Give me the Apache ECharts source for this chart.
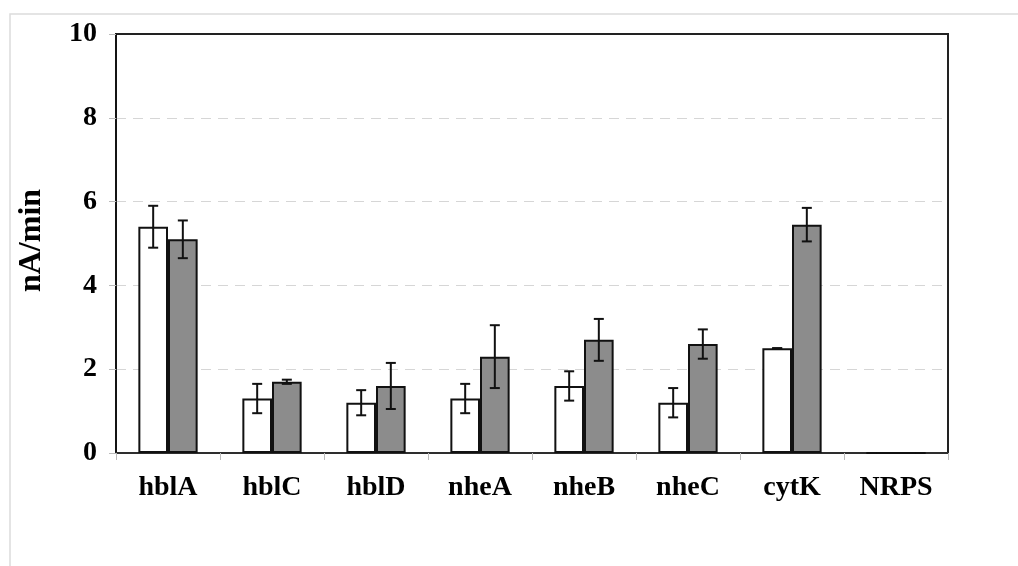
<!DOCTYPE html>
<html>
<head>
<meta charset="utf-8">
<script src="https://cdn.jsdelivr.net/npm/echarts@6/dist/echarts.min.js"></script>
<style>
html,body{margin:0;padding:0;background:#fff;}
#chart{width:1018px;height:566px;}
</style>
</head>
<body>
<div id="chart"></div>
<script>
const categories = ['hblA','hblC','hblD','nheA','nheB','nheC','cytK','NRPS'];
const whiteValues = [5.4, 1.3, 1.2, 1.3, 1.6, 1.2, 2.5, 0];
const whiteErrors = [0.5, 0.35, 0.3, 0.35, 0.35, 0.35, 0.0, 0];
const grayValues = [5.1, 1.7, 1.6, 2.3, 2.7, 2.6, 5.45, 0];
const grayErrors = [0.45, 0.05, 0.55, 0.75, 0.5, 0.35, 0.4, 0];
const yTicks = [0, 2, 4, 6, 8, 10];

const BAR_FRAC = 0.285;
const FONT = '"Liberation Serif", "Times New Roman", serif';

function errorData(vals, errs) {
  return vals.map((v, i) => [i, v - errs[i], v + errs[i]]);
}

function makeErrRender(sign) {
  return function (params, api) {
    const idx = api.value(0);
    const lo = api.coord([idx, api.value(1)]);
    const hi = api.coord([idx, api.value(2)]);
    const band = api.size([1, 0])[0];
    const x = lo[0] + sign * band * BAR_FRAC / 2;
    const cap = 5;
    const style = { stroke: '#111', lineWidth: 2 };
    return {
      type: 'group',
      children: [
        { type: 'line', shape: { x1: x, y1: hi[1], x2: x, y2: lo[1] }, style },
        { type: 'line', shape: { x1: x - cap, y1: hi[1], x2: x + cap, y2: hi[1] }, style },
        { type: 'line', shape: { x1: x - cap, y1: lo[1], x2: x + cap, y2: lo[1] }, style }
      ]
    };
  };
}

const chart = echarts.init(document.getElementById('chart'), null, { renderer: 'canvas' });
chart.setOption({
  backgroundColor: '#fff',
  animation: false,
  graphic: [{
    type: 'rect', left: 7.5, top: 11.5, z: -10,
    shape: { width: 1200, height: 800 },
    style: { fill: 'none', stroke: '#dcdcdc', lineWidth: 1.5 }
  }],
  grid: {
    left: 116, right: 70, top: 34, bottom: 113,
    show: true, borderColor: '#222', borderWidth: 2, backgroundColor: 'transparent'
  },
  xAxis: {
    type: 'category',
    data: categories,
    axisLine: { lineStyle: { color: '#333', width: 1.5 } },
    axisTick: { show: true, length: 7, lineStyle: { color: '#bbb' } },
    axisLabel: { fontFamily: FONT, fontWeight: 'bold', fontSize: 28, color: '#000', margin: 21 }
  },
  yAxis: {
    type: 'value',
    min: 0, max: 10, interval: 2,
    name: 'nA/min',
    nameLocation: 'middle',
    nameGap: 68,
    nameTextStyle: { fontFamily: FONT, fontWeight: 'bold', fontSize: 32, color: '#000', padding: [0, 0, 0, 6] },
    axisLine: { show: true, lineStyle: { color: '#111', width: 1.5 } },
    axisTick: { show: true, length: 7, lineStyle: { color: '#bbb' } },
    axisLabel: {
      fontFamily: FONT, fontWeight: 'bold', fontSize: 28, color: '#000', margin: 19,
      formatter: v => yTicks.includes(v) ? String(v) : ''
    },
    splitLine: { show: true, showMinLine: false, showMaxLine: false, lineStyle: { color: '#d6d6d6', type: [10, 7], width: 1.2 } }
  },
  series: [
    {
      type: 'bar', name: 'A', data: whiteValues, barWidth: (BAR_FRAC * 100) + '%', barGap: '0%',
      itemStyle: { color: '#fff', borderColor: '#111', borderWidth: 2 }
    },
    {
      type: 'bar', name: 'B', data: grayValues, barWidth: (BAR_FRAC * 100) + '%', barGap: '0%',
      itemStyle: { color: '#8c8c8c', borderColor: '#111', borderWidth: 2 }
    },
    {
      type: 'custom', name: 'A err', data: errorData(whiteValues, whiteErrors),
      renderItem: makeErrRender(-1), encode: { x: 0, y: [1, 2] }, z: 10
    },
    {
      type: 'custom', name: 'B err', data: errorData(grayValues, grayErrors),
      renderItem: makeErrRender(1), encode: { x: 0, y: [1, 2] }, z: 10
    }
  ]
});
</script>
</body>
</html>
